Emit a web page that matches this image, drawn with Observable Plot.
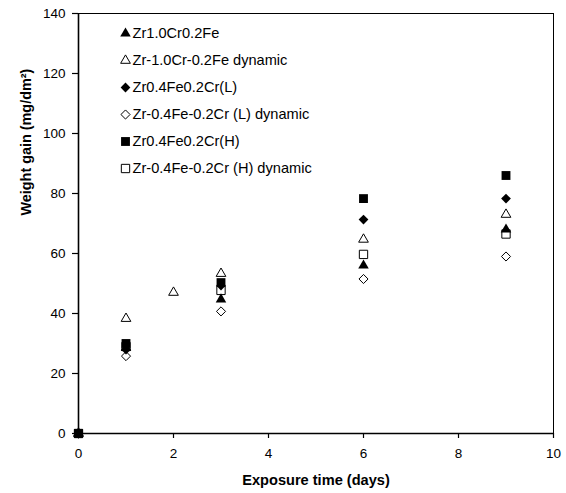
<!DOCTYPE html>
<html><head><meta charset="utf-8">
<script src="https://cdn.jsdelivr.net/npm/d3@7"></script>
<script src="https://cdn.jsdelivr.net/npm/@observablehq/plot@0.6"></script>
<style>body{margin:0;background:#fff} svg{display:block}</style>
</head><body><div id="chart"></div>
<script>
const seriesNames = ["Zr1.0Cr0.2Fe", "Zr-1.0Cr-0.2Fe dynamic", "Zr0.4Fe0.2Cr(L)", "Zr-0.4Fe-0.2Cr (L) dynamic", "Zr0.4Fe0.2Cr(H)", "Zr-0.4Fe-0.2Cr (H) dynamic"];
const daysA = [0, 1, 3, 6, 9];
const daysB = [0, 1, 2, 3, 6, 9];
const gainZr10Cr = [0, 28.5, 44.7, 56, 68];
const gainZr10CrDyn = [0, 38.3, 47, 53.3, 64.7, 73];
const gainZr04FeL = [0, 28, 49.3, 71.3, 78.3];
const gainZr04FeLDyn = [0, 25.8, 40.7, 51.5, 59];
const gainZr04FeH = [0, 30, 50.3, 78.3, 86];
const gainZr04FeHDyn = [0, 29, 47.7, 59.7, 66.5];
const xTicks = [0, 2, 4, 6, 8, 10];
const yTicks = [0, 20, 40, 60, 80, 100, 120, 140];
const xTitle = "Exposure time (days)";
const yTitle = "Weight gain (mg/dm²)";

const seriesDays = [daysA, daysB, daysA, daysA, daysA, daysA];
const seriesGain = [gainZr10Cr, gainZr10CrDyn, gainZr04FeL, gainZr04FeLDyn, gainZr04FeH, gainZr04FeHDyn];
const seriesSymbol = ["triangle", "triangle", "diamond2", "diamond2", "square", "square"];
const seriesFilled = [true, false, true, false, true, false];
const symbolR = {triangle: 3.9, diamond2: 4.4, square: 5};

function styleOf(i) {
  const filled = seriesFilled[i];
  return {
    symbol: seriesSymbol[i],
    r: symbolR[seriesSymbol[i]] - (filled ? 0 : 0.3),
    fill: filled ? "black" : "none",
    stroke: filled ? "none" : "black",
    strokeWidth: 1
  };
}

const marks = [];
marks.push(Plot.frame({stroke: "black", strokeWidth: 1}));
marks.push(Plot.ruleX([0], {stroke: "black", strokeWidth: 1.6}));
marks.push(Plot.ruleY([0], {stroke: "black", strokeWidth: 1.6}));
marks.push(Plot.axisY({ticks: yTicks, tickSize: 6, tickPadding: 7, label: null, fontSize: 13.5, strokeWidth: 1.2, fill: "black"}));
marks.push(Plot.axisX({ticks: xTicks, tickSize: 5, tickPadding: 10, label: null, fontSize: 13.5, strokeWidth: 1.2, fill: "black"}));
marks.push(Plot.text([xTitle], {frameAnchor: "bottom", dy: 47, lineAnchor: "middle", fontWeight: "bold", fontSize: 14.6, fill: "black"}));
marks.push(Plot.text([yTitle], {frameAnchor: "left", dx: -52, dy: -8, rotate: -90, fontWeight: "bold", fontSize: 14.4, fill: "black"}));

seriesNames.forEach((name, i) => {
  const rows = seriesDays[i].map((d, j) => ({day: d, gain: seriesGain[i][j]}));
  marks.push(Plot.dot(rows, {x: "day", y: "gain", ...styleOf(i)}));
});

// legend inside the frame
seriesNames.forEach((name, i) => {
  const dy = 20 + i * 27;
  marks.push(Plot.dot([name], {frameAnchor: "top-left", dx: 47, dy, ...styleOf(i)}));
  marks.push(Plot.text([name], {frameAnchor: "top-left", dx: 54, dy, lineAnchor: "middle", text: d => d, textAnchor: "start", fontSize: 14.6, fill: "black"}));
});

const chart = Plot.plot({
  width: 566,
  height: 493,
  marginLeft: 78,
  marginRight: 13,
  marginTop: 13,
  marginBottom: 60,
  style: {fontFamily: "Arial, 'Liberation Sans', sans-serif", fontSize: "13.5px", color: "black", background: "white"},
  x: {domain: [0, 10]},
  y: {domain: [0, 140]},
  marks
});
document.getElementById("chart").append(chart);
</script>
</body></html>
